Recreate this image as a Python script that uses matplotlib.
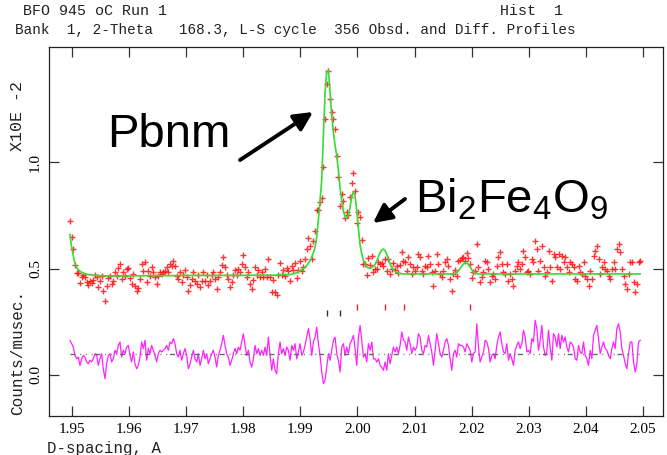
import numpy as np
import matplotlib
matplotlib.use('Agg')
from matplotlib import pyplot as plt

plt.rcParams['mathtext.fontset'] = 'custom'
plt.rcParams['mathtext.rm'] = 'Liberation Sans'

# d-spacing range of the histogram (first and last point)
d_first, d_last = 1.94968, 2.04951

# calculated profile (green), one value per observed point
calc = [
    0.660, 0.600, 0.560, 0.525, 0.505, 0.495, 0.488, 0.483, 0.479, 0.476,
    0.474, 0.472, 0.471, 0.470, 0.469, 0.469, 0.468, 0.468, 0.467, 0.467,
    0.467, 0.466, 0.466, 0.466, 0.466, 0.466, 0.466, 0.466, 0.466, 0.466,
    0.466, 0.466, 0.466, 0.466, 0.466, 0.466, 0.466, 0.466, 0.466, 0.466,
    0.466, 0.466, 0.466, 0.466, 0.466, 0.467, 0.467, 0.467, 0.467, 0.467,
    0.467, 0.467, 0.467, 0.467, 0.467, 0.467, 0.467, 0.467, 0.467, 0.467,
    0.467, 0.467, 0.467, 0.467, 0.467, 0.468, 0.468, 0.468, 0.468, 0.468,
    0.468, 0.468, 0.468, 0.468, 0.468, 0.468, 0.468, 0.468, 0.468, 0.468,
    0.468, 0.468, 0.468, 0.468, 0.468, 0.468, 0.468, 0.468, 0.468, 0.468,
    0.468, 0.468, 0.468, 0.468, 0.468, 0.468, 0.468, 0.468, 0.468, 0.468,
    0.468, 0.468, 0.468, 0.468, 0.468, 0.469, 0.469, 0.469, 0.469, 0.469,
    0.469, 0.469, 0.469, 0.469, 0.469, 0.469, 0.469, 0.469, 0.469, 0.469,
    0.469, 0.469, 0.469, 0.469, 0.470, 0.470, 0.470, 0.470, 0.471, 0.471,
    0.471, 0.471, 0.472, 0.474, 0.476, 0.478, 0.481, 0.485, 0.490, 0.495,
    0.500, 0.507, 0.515, 0.525, 0.537, 0.555, 0.575, 0.600, 0.650, 0.730,
    0.820, 0.920, 1.120, 1.330, 1.430, 1.430, 1.330, 1.220, 1.140, 1.080,
    1.030, 0.960, 0.880, 0.820, 0.770, 0.745, 0.737, 0.750, 0.790, 0.840,
    0.862, 0.840, 0.770, 0.690, 0.610, 0.570, 0.540, 0.520, 0.508, 0.503,
    0.502, 0.505, 0.510, 0.520, 0.535, 0.555, 0.575, 0.588, 0.592, 0.585,
    0.568, 0.545, 0.522, 0.505, 0.494, 0.487, 0.482, 0.479, 0.477, 0.476,
    0.475, 0.475, 0.475, 0.475, 0.475, 0.475, 0.475, 0.475, 0.475, 0.475,
    0.475, 0.475, 0.475, 0.475, 0.475, 0.475, 0.475, 0.475, 0.475, 0.475,
    0.475, 0.475, 0.475, 0.475, 0.475, 0.475, 0.475, 0.475, 0.475, 0.475,
    0.475, 0.476, 0.482, 0.490, 0.500, 0.512, 0.522, 0.528, 0.527, 0.520,
    0.508, 0.495, 0.485, 0.479, 0.476, 0.475, 0.475, 0.475, 0.475, 0.475,
    0.475, 0.475, 0.475, 0.475, 0.475, 0.475, 0.475, 0.475, 0.475, 0.475,
    0.475, 0.475, 0.475, 0.475, 0.475, 0.475, 0.475, 0.475, 0.475, 0.475,
    0.475, 0.475, 0.475, 0.475, 0.475, 0.475, 0.475, 0.475, 0.475, 0.475,
    0.475, 0.475, 0.475, 0.475, 0.475, 0.475, 0.475, 0.475, 0.475, 0.475,
    0.475, 0.475, 0.475, 0.475, 0.475, 0.475, 0.475, 0.475, 0.475, 0.475,
    0.475, 0.475, 0.475, 0.475, 0.475, 0.475, 0.475, 0.475, 0.475, 0.475,
    0.475, 0.475, 0.475, 0.475, 0.475, 0.475, 0.475, 0.475, 0.475, 0.475,
    0.475, 0.475, 0.475, 0.475, 0.475, 0.475, 0.475, 0.475, 0.475, 0.475,
    0.475, 0.475, 0.475, 0.475, 0.475, 0.475, 0.475, 0.475, 0.475, 0.475,
    0.475, 0.475, 0.475,
]

# obs - calc (magenta curve)
diff = [
    0.063, 0.047, 0.031, -0.008, -0.024, -0.016, -0.055, -0.024, -0.008, -0.016,
    -0.039, -0.047, -0.031, -0.039, -0.024, 0.0, -0.008, -0.055, -0.024, 0.0,
    -0.071, -0.118, -0.047, -0.008, 0.0, -0.039, -0.024, 0.016, 0.0, 0.039,
    0.055, -0.016, 0.016, 0.0, 0.031, 0.039, -0.008, -0.039, 0.008, -0.047,
    -0.071, -0.055, -0.016, 0.055, 0.024, 0.063, -0.031, 0.024, 0.0, 0.039,
    0.016, -0.008, -0.039, 0.0, 0.016, 0.008, 0.016, 0.024, 0.039, 0.016,
    0.055, 0.047, 0.071, 0.047, 0.0, -0.016, 0.016, -0.031, 0.0, 0.024,
    -0.008, -0.071, -0.047, -0.016, 0.016, -0.024, -0.039, 0.0, -0.055, -0.024,
    0.016, -0.024, 0.0, -0.047, -0.024, 0.0, 0.016, -0.016, -0.063, -0.008,
    0.016, 0.047, 0.086, 0.039, 0.0, -0.016, -0.055, -0.031, 0.0, 0.024,
    0.0, 0.031, 0.016, 0.055, 0.094, 0.039, -0.008, 0.016, -0.039, -0.063,
    -0.024, 0.039, 0.0, 0.024, -0.008, 0.016, -0.008, 0.031, -0.008, 0.078,
    -0.008, -0.078, -0.024, -0.078, -0.094, 0.0, 0.055, 0.0, 0.024, -0.008,
    0.031, 0.016, -0.031, 0.039, 0.016, 0.047, -0.024, 0.008, 0.047, -0.008,
    0.008, 0.039, 0.078, 0.118, 0.071, -0.008, 0.055, 0.078, 0.125, 0.047,
    -0.008, -0.086, -0.141, -0.125, -0.063, 0.0, -0.031, 0.016, 0.063, 0.078,
    0.0, -0.031,
    -0.086, 0.031, 0.047, -0.008, 0.031, 0.0, 0.047, 0.063, 0.086, 0.024,
    -0.055, 0.078, 0.133, 0.063, -0.016, 0.0, -0.039, 0.047, 0.016, 0.055,
    -0.024, -0.024, -0.039, -0.024, -0.055, -0.063, -0.078, -0.039, -0.078, 0.0,
    -0.047, -0.008, 0.031, 0.008, 0.031, 0.0, 0.039, 0.102, 0.063, 0.055,
    0.016, 0.078, 0.047, 0.0, 0.031, 0.016, 0.031, 0.094, 0.078, 0.016,
    0.0, 0.039, 0.031, 0.086, 0.047, 0.008, -0.055, 0.016, 0.094, 0.047,
    0.0, -0.016, 0.016, 0.055, 0.071, 0.039, -0.024, -0.078, 0.0, 0.016,
    -0.016, 0.047, 0.039, 0.039, 0.031, 0.008, 0.047, 0.031, 0.016, -0.039,
    0.0, 0.008, 0.141, 0.031, -0.039, -0.016, 0.008, 0.063, 0.055, 0.024,
    -0.039, -0.008, 0.0, -0.024, 0.039, 0.078, 0.102, 0.047, 0.008, 0.0,
    0.047, -0.031, 0.0, -0.024, -0.055, 0.016, 0.039, 0.055, 0.024, 0.047,
    0.110, 0.078, 0.008, 0.016, 0.0, 0.071, 0.055, 0.157, 0.118, 0.016,
    0.063, 0.133, 0.031, -0.008, 0.008, 0.110, 0.031, -0.031, 0.094, 0.078,
    0.031, 0.094, 0.024, 0.086, 0.055, 0.078, 0.031, 0.008, 0.055, 0.047,
    0.031, -0.024, -0.031, 0.039, 0.008, 0.0, 0.055, -0.008, -0.024, -0.055,
    0.016, -0.024, 0.086, 0.110, 0.133, 0.071, 0.0, 0.031, 0.055, 0.024,
    0.016, -0.008, -0.024, 0.024, 0.055, 0.024, 0.118, 0.141, 0.102, 0.024,
    -0.008, -0.047, -0.071, 0.0, 0.055, 0.055, -0.039, -0.086, -0.047, 0.055,
    0.063,
]

# reflection positions: Pbnm (black) and Bi2Fe4O9 (red)
refl_pbnm = [1.99475, 1.99697]
refl_bfo = [1.99986, 2.00485, 2.00823, 2.01974]

xticks = [1.95, 1.96, 1.97, 1.98, 1.99, 2.00, 2.01, 2.02, 2.03, 2.04, 2.05]
yticks = [0.0, 0.5, 1.0]

d = np.linspace(d_first, d_last, len(diff))
calc = np.array(calc)
diff = np.array(diff)
obs = calc + diff
diff_offset = 0.10

fig = plt.figure(figsize=(6.67, 4.55), dpi=100)
W, H = 667, 455
ax = fig.add_axes([49 / W, 1 - 416 / H, (663 - 49) / W, (416 - 47) / H])

ax.plot(d, obs, '+', color='#ff1010', ms=5, mew=1.0, alpha=0.85)
ax.plot(d, calc, color='#33dd33', lw=1.2)
ax.plot(d, diff + diff_offset, color='#ff22ff', lw=0.9)
ax.plot([d_first, d_last], [diff_offset, diff_offset], color='#666666', lw=1.0,
        linestyle=(0, (3.6, 3.4, 0.7, 3.4, 0.7, 3.4, 0.7, 2)))
ax.vlines(refl_pbnm, 0.278, 0.305, color='#333333', lw=1.0)
ax.vlines(refl_bfo, 0.307, 0.333, color='#ee2222', lw=1.0)

ax.set_xlim(1.94601, 2.0535)
ax.set_ylim(-0.193, 1.542)
ax.set_xticks(xticks)
ax.set_xticklabels(['%.2f' % v for v in xticks], family='Liberation Serif', fontsize=11)
ax.set_yticks(yticks)
ax.set_yticklabels(['%.1f' % v for v in yticks], family='Liberation Serif', fontsize=11,
                   rotation=90, va='center')
ax.tick_params(direction='in', length=7, width=0.9, top=True, right=True, color='#333333')
ax.tick_params(axis='x', pad=5)
ax.tick_params(axis='y', pad=5)
for s in ax.spines.values():
    s.set_linewidth(0.9)
    s.set_color('#222222')

mono = dict(family='Liberation Mono', color='#222222')
fig.text(23 / W, 1 - 11 / H, 'BFO 945 oC Run 1', va='center', fontsize=10.8, **mono)
fig.text(500 / W, 1 - 11 / H, 'Hist  1', va='center', fontsize=10.8, **mono)
fig.text(15 / W, 1 - 30 / H, 'Bank  1, 2-Theta   168.3, L-S cycle  356 Obsd. and Diff. Profiles',
         va='center', fontsize=10.4, **mono)
fig.text(18 / W, 1 - 116 / H, 'X10E -2', rotation=90, ha='center', va='center',
         fontsize=12, **mono)
fig.text(18 / W, 1 - 352 / H, 'Counts/musec.', rotation=90, ha='center', va='center',
         fontsize=11.5, **mono)
fig.text(47 / W, 1 - 449 / H, 'D-spacing, A', va='center', fontsize=11.3, **mono)

big = dict(family='Liberation Sans', fontsize=34, color='black')
fig.text(107 / W, 1 - 147 / H, 'Pbnm', ha='left', va='baseline', **big)
fig.text(415 / W, 1 - 212 / H, 'Bi$_2$Fe$_4$O$_9$', ha='left', va='baseline', **big)

arrow = dict(arrowstyle='-|>', lw=2.8, color='black', mutation_scale=28, shrinkA=0, shrinkB=0)
ax.annotate('', xy=(313, H - 112), xytext=(240, H - 160),
            xycoords='figure pixels', textcoords='figure pixels', arrowprops=arrow)
ax.annotate('', xy=(373, H - 223), xytext=(405, H - 199),
            xycoords='figure pixels', textcoords='figure pixels', arrowprops=arrow)

fig.savefig('out.png', dpi=100)
